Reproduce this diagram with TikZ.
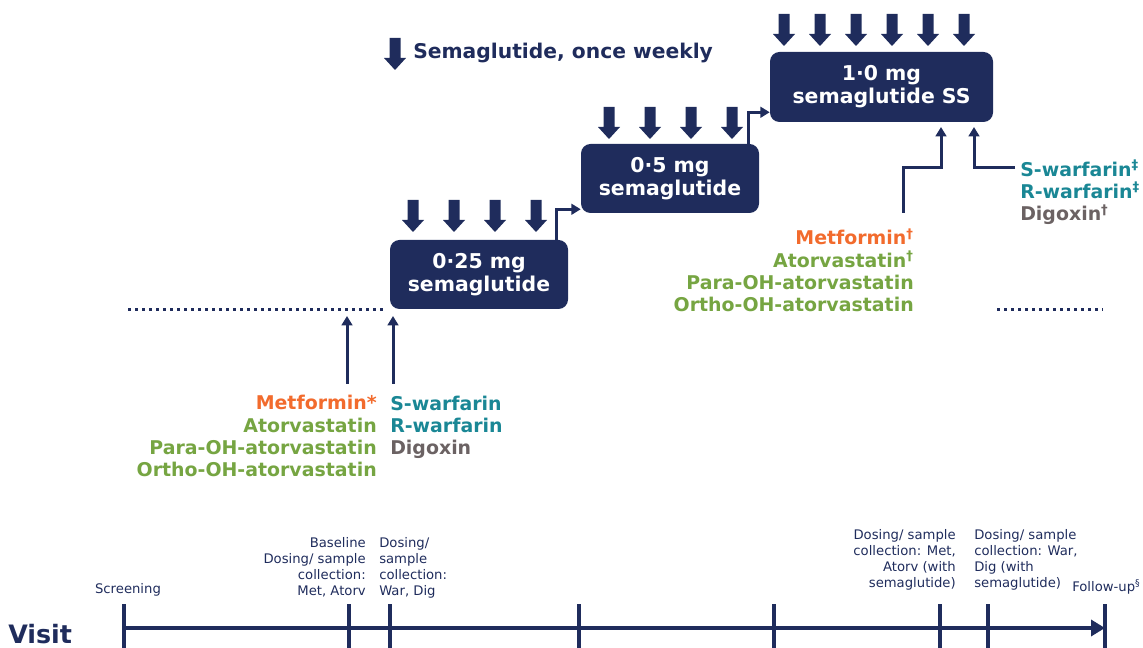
\documentclass[tikz,border=0pt]{standalone}
\usepackage{fontspec}
\setmainfont{DejaVu Sans}
\usepackage{xcolor}
\usepackage{tikz}
\usetikzlibrary{calc}
\usetikzlibrary{positioning}
\usetikzlibrary{arrows.meta}

\definecolor{navy}{HTML}{1F2C5C}
\definecolor{metorange}{HTML}{F26B2D}
\definecolor{atorgreen}{HTML}{76A542}
\definecolor{warteal}{HTML}{1A8795}
\definecolor{diggray}{HTML}{6B6263}

\begin{document}
\begin{tikzpicture}[
    x = .75pt,
    y = -.75pt,
    dose/.style = {
      rectangle,
      fill=navy,
      rounded corners=2.5mm,
      text=white,
      font=\fontsize{15.3}{17.25}\selectfont\bfseries,
      align=center,
      inner sep=0pt,
      minimum width=133.5pt,
      minimum height=51.75pt
    },
    flow/.style = {
      draw=navy,
      line width=2.25pt,
      -{Triangle[length=7pt,width=8pt]}
    },
    drug/.style = {
      inner sep=0pt,
      font=\fontsize{14.2}{16.75}\selectfont\bfseries
    },
    visitlabel/.style = {
      inner sep=0pt,
      text=navy,
      font=\fontsize{9.9}{11.9}\selectfont
    },
    tick/.style = {
      draw=navy,
      line width=3pt
    },
    dotline/.style = {
      draw=navy,
      line width=2.25pt,
      dash pattern=on 2.25pt off 3pt
    },
    dosearrow/.pic = {
      \fill[navy] (-5.5,0) -- (5.5,0) -- (5.5,20) -- (11,20) -- (0,32)
        -- (-11,20) -- (-5.5,20) -- cycle;
    }
  ]
    \useasboundingbox (0,0) rectangle (1143,648);

    % legend
    \pic at (395,38) {dosearrow};
    \node[anchor=base west, inner sep=0pt, text=navy,
      font=\fontsize{15.2}{18}\selectfont\bfseries] (legend) at (413,59)
      {Semaglutide, once weekly};

    % dose steps
    \node[dose] (low) at (479,274.5) {0·25 mg\\semaglutide};
    \node[dose] (mid) at (670,178.5) {0·5 mg\\semaglutide};
    \node[dose, minimum width=167.25pt, minimum height=52.5pt] (ss) at (881.5,87)
      {1·0 mg\\semaglutide SS};

    \foreach \x in {413,454,495,536} \pic at (\x,200) {dosearrow};
    \foreach \x in {609,650,691,732} \pic at (\x,107) {dosearrow};
    \foreach \x in {784,820,856,892,928,964} \pic at (\x,14) {dosearrow};

    \draw[flow] ($(low.north east)+(-12,0)$) |- ($(mid.south west)+(0,-4)$);
    \draw[flow] ($(mid.north east)+(-11,0)$) |- ($(ss.south west)+(0,-10)$);

    % baseline samples
    \draw[dotline] (128,310) -- (383,310);
    \draw[dotline] (997,310) -- (1103,310);

    \coordinate (metbase) at (347,384);
    \coordinate (metin) at (347,316);
    \coordinate (warbase) at (393,384);
    \coordinate (warin) at (393,316);
    \draw[flow] (metbase) -- (metin);
    \draw[flow] (warbase) -- (warin);

    \node[drug, anchor=base east, align=right] (metdrugs) at (377,477)
      {\color{metorange}Metformin*\\
       \color{atorgreen}Atorvastatin\\
       \color{atorgreen}Para-OH-atorvastatin\\
       \color{atorgreen}Ortho-OH-atorvastatin};
    \node[drug, anchor=base west, align=left] (wardrugs) at (390,455)
      {\color{warteal}S-warfarin\\
       \color{warteal}R-warfarin\\
       \color{diggray}Digoxin};

    % steady state samples
    \coordinate (metss) at (903,213);
    \coordinate (metssin) at (941,127);
    \coordinate (warss) at (1015,168);
    \coordinate (warssin) at (974,127);
    \draw[flow] (metss) -- ++(0,-45) -| (metssin);
    \draw[flow] (warss) -| (warssin);

    \node[drug, anchor=base east, align=right] (metssdrugs) at (914,312)
      {\color{metorange}Metformin\textsuperscript{\textdagger}\\
       \color{atorgreen}Atorvastatin\textsuperscript{\textdagger}\\
       \color{atorgreen}Para-OH-atorvastatin\\
       \color{atorgreen}Ortho-OH-atorvastatin};
    \node[drug, anchor=base west, align=left] (warssdrugs) at (1020,221)
      {\color{warteal}S-warfarin\textsuperscript{\textdaggerdbl}\\
       \color{warteal}R-warfarin\textsuperscript{\textdaggerdbl}\\
       \color{diggray}Digoxin\textsuperscript{\textdagger}};

    % visits
    \node[anchor=base west, inner sep=0pt, text=navy,
      font=\fontsize{19}{22}\selectfont\bfseries] (visit) at (8,643) {Visit};

    \foreach \i/\x in {1/124,2/349,3/390,4/579,5/774,6/940,7/988,8/1105}
      \coordinate (v\i) at (\x,628);
    \draw[navy, line width=3pt, -{Triangle[length=10.5pt,width=12pt]}] (v1) -- (v8);
    \foreach \i in {1,...,8}
      \draw[tick] ($(v\i)+(0,-24)$) -- ($(v\i)+(0,22)$);

    \node[visitlabel, anchor=base] (screen) at (128,593) {Screening};
    \node[visitlabel, anchor=base east, align=right] (basevisit) at (366,595)
      {Baseline\\Dosing/ sample\\collection:\\Met, Atorv};
    \node[visitlabel, anchor=base west, align=left] (warvisit) at (379,595)
      {Dosing/\\sample\\collection:\\War, Dig};
    \node[visitlabel, anchor=base east, align=right] (metssvisit) at (956,587)
      {Dosing/ sample\\collection: Met,\\Atorv (with\\semaglutide)};
    \node[visitlabel, anchor=base west, align=left] (warssvisit) at (974,587)
      {Dosing/ sample\\collection: War,\\Dig (with\\semaglutide)};
    \node[visitlabel, anchor=base west] (followup) at (1072,591)
      {Follow-up\textsuperscript{§}};

  \end{tikzpicture}
\end{document}
